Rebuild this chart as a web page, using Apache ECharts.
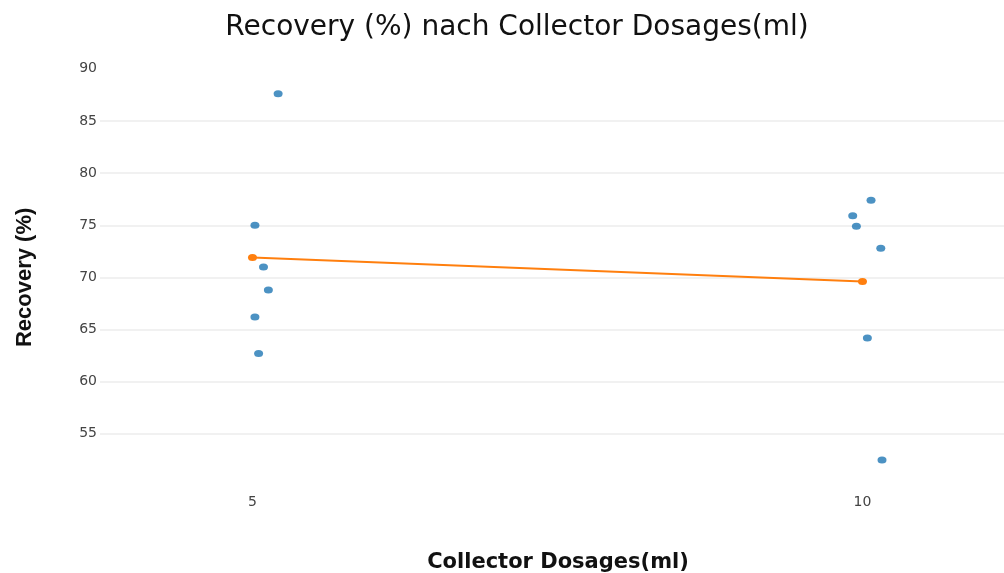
<!DOCTYPE html>
<html>
<head>
<meta charset="utf-8">
<script src="https://cdn.jsdelivr.net/npm/echarts@6/dist/echarts.min.js"></script>
<style>
  html, body { margin: 0; padding: 0; background: #fff; }
  #chart { width: 1004px; height: 573px; }
</style>
</head>
<body>
<div id="chart"></div>
<script>
// jittered raw measurements: [dosage (with jitter), recovery %]
const dose5Points = [[5.21, 87.6], [5.02, 75.0], [5.09, 71.0], [5.13, 68.8], [5.02, 66.2], [5.05, 62.7]]
const dose10Points = [[10.07, 77.4], [9.92, 75.9], [9.95, 74.9], [10.15, 72.8], [10.04, 64.2], [10.16, 52.5]]
// group means
const meanDoses = [5, 10]
const meanRecovery = [71.9, 69.6]
const xTicks = [5, 10]

const chart = echarts.init(document.getElementById('chart'))

chart.setOption({
  backgroundColor: '#fff',
  animation: false,
  title: {
    text: 'Recovery (%) nach Collector Dosages(ml)',
    left: 512,
    textAlign: 'center',
    top: 9,
    textStyle: {
      fontFamily: 'DejaVu Sans, sans-serif',
      fontSize: 28,
      fontWeight: 'normal',
      color: '#111'
    }
  },
  grid: {
    left: 100,
    right: 0,
    top: 68.8,
    bottom: 87,
    outerBoundsMode: 'none'
  },
  xAxis: {
    type: 'value',
    min: 3.75,
    max: 11.16,
    name: 'Collector Dosages(ml)',
    nameLocation: 'middle',
    nameGap: 66,
    nameTextStyle: {
      fontFamily: 'DejaVu Sans, sans-serif',
      fontSize: 21,
      fontWeight: 'bold',
      color: '#111',
      padding: [0, 0, 0, 12]
    },
    axisLine: { show: false },
    axisTick: { show: false },
    splitLine: { show: false },
    axisLabel: {
      customValues: xTicks,
      margin: 9,
      fontFamily: 'DejaVu Sans, sans-serif',
      fontSize: 14,
      color: '#444'
    }
  },
  yAxis: {
    type: 'value',
    min: 50,
    max: 90,
    interval: 5,
    name: 'Recovery (%)',
    nameLocation: 'middle',
    nameGap: 64,
    nameTextStyle: {
      fontFamily: 'Liberation Sans, Arial, sans-serif',
      fontSize: 22,
      fontWeight: 'bold',
      color: '#111'
    },
    axisLine: { show: false },
    axisTick: { show: false },
    axisLabel: {
      showMinLabel: false,
      showMaxLabel: true,
      margin: 3,
      fontFamily: 'DejaVu Sans, sans-serif',
      fontSize: 14,
      color: '#444'
    },
    splitLine: {
      showMinLine: false,
      showMaxLine: false,
      lineStyle: { color: '#ececec', width: 1.5 }
    }
  },
  series: [
    {
      name: '5',
      type: 'scatter',
      symbolSize: [9, 7],
      itemStyle: { color: '#1f77b4' },
      data: dose5Points
    },
    {
      name: '10',
      type: 'scatter',
      symbolSize: [9, 7],
      itemStyle: { color: '#1f77b4' },
      data: dose10Points
    },
    {
      name: 'Mittelwert',
      type: 'line',
      symbol: 'circle',
      symbolSize: [9, 7],
      lineStyle: { color: '#ff7f0e', width: 2 },
      itemStyle: { color: '#ff7f0e' },
      data: meanDoses.map((d, i) => [d, meanRecovery[i]]),
      z: 3
    }
  ]
})
</script>
</body>
</html>
